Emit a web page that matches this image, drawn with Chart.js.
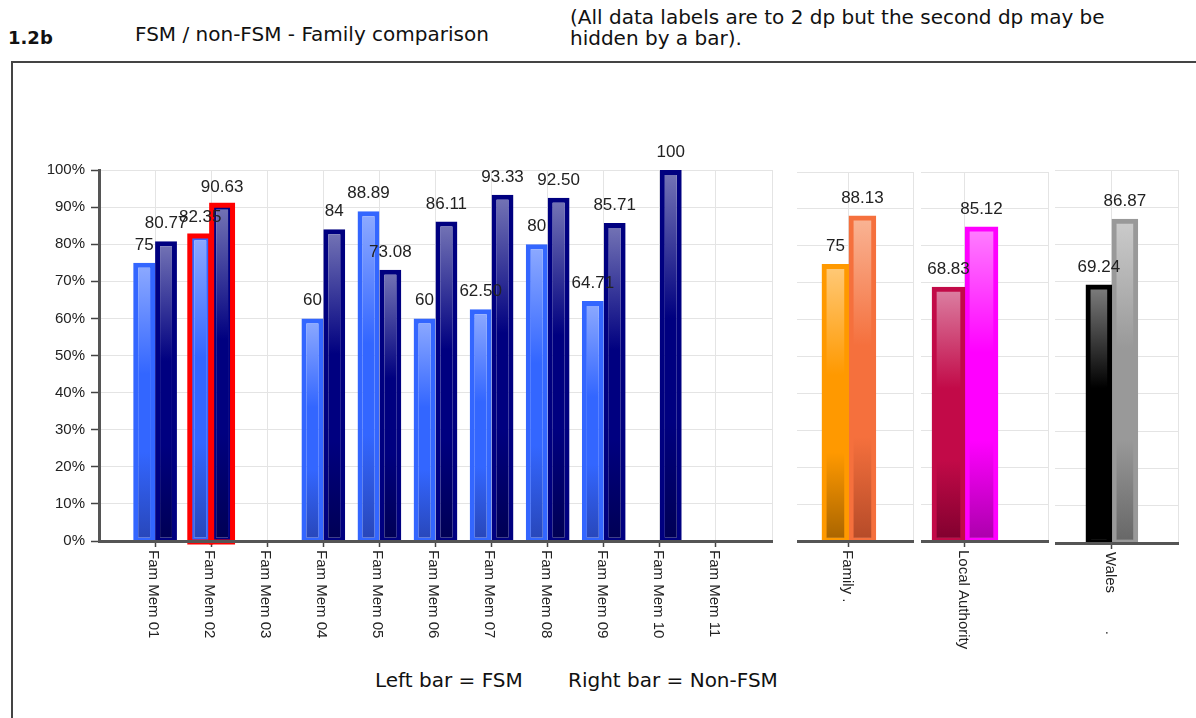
<!DOCTYPE html>
<html>
<head>
<meta charset="utf-8">
<script src="https://cdn.jsdelivr.net/npm/chart.js@4.4.1/dist/chart.umd.min.js"></script>
<style>
  body { margin: 0; width: 1196px; height: 718px; overflow: hidden; background: #fff; position: relative;
         font-family: "DejaVu Sans", Verdana, sans-serif; color: #111; }
  .txt { position: absolute; font-size: 20px; line-height: 21px; white-space: nowrap; }
  #frame { position: absolute; left: 11px; top: 61px; width: 1300px; height: 800px; border: 2px solid #444; }
  canvas { position: absolute; top: 0; }
</style>
</head>
<body>
<div class="txt" style="left:8px; top:27px; font-weight:bold; font-size:18px">1.2b</div>
<div class="txt" style="left:135px; top:24px">FSM / non-FSM - Family comparison</div>
<div class="txt" style="left:570px; top:7px">(All data labels are to 2 dp but the second dp may be<br>hidden by a bar).</div>
<div id="frame"></div>
<div class="txt" style="left:375px; top:670px">Left bar = FSM</div>
<div class="txt" style="left:568px; top:670px">Right bar = Non-FSM</div>

<canvas id="main" width="790" height="718" style="left:0px"></canvas>
<canvas id="panel0" width="126" height="718" style="left:797px"></canvas>
<canvas id="panel1" width="137" height="718" style="left:921px"></canvas>
<canvas id="panel2" width="133" height="718" style="left:1055px"></canvas>

<script>
// family members
const categories = ['Fam Mem 01', 'Fam Mem 02', 'Fam Mem 03', 'Fam Mem 04', 'Fam Mem 05', 'Fam Mem 06',
                    'Fam Mem 07', 'Fam Mem 08', 'Fam Mem 09', 'Fam Mem 10', 'Fam Mem 11'];
const fsmValues = [75, 82.35, null, 60, 88.89, 60, 62.5, 80, 64.71, null, null];
const nonFsmValues = [80.77, 90.63, null, 84, 73.08, 86.11, 93.33, 92.5, 85.71, 100, null];
const highlighted = 'Fam Mem 02';

// comparison panels
const panelLabels = ['Family .', 'Local Authority', 'Wales         .'];
const panelFsm = [75, 68.83, 69.24];
const panelNonFsm = [88.13, 85.12, 86.87];

const FONT = '"Liberation Sans", Arial, sans-serif';
const gridColor = '#e4e4e4';
const clear = 'rgba(0,0,0,0)';
Chart.defaults.font.family = FONT;

const mainFsmCol = { border: '#3366ff', top: '#8fabff', mid: '#3366ff', bottom: '#2846b8' };
const mainNonCol = { border: '#000080', top: '#7676b6', mid: '#000080', bottom: '#000054' };
const panelCols = [
    [{ border: '#ff9900', top: '#ffca7a', mid: '#ff9900', bottom: '#a86400' },
     { border: '#f5703d', top: '#f9b596', mid: '#f5703d', bottom: '#b44a28' }],
    [{ border: '#c20a48', top: '#dc82a4', mid: '#c20a48', bottom: '#80002e' },
     { border: '#ff00ff', top: '#ff80ff', mid: '#ff00ff', bottom: '#aa00aa' }],
    [{ border: '#000000', top: '#808080', mid: '#000000', bottom: '#000000' },
     { border: '#999999', top: '#cccccc', mid: '#999999', bottom: '#666666' }],
];
// where each small panel sits on the page
const panelBoxes = [
    { top: 172, bottom: 541, min: 0.19, bar: 27 },
    { top: 172, bottom: 541, min: 0.47, bar: 33 },
    { top: 170, bottom: 543, min: 0.14, bar: 26 },
];

const fmt = (v) => Number.isInteger(v) ? String(v) : v.toFixed(2);

// per-bar light-to-dark fill
const barFill = (c) => (ctx) => {
    const chart = ctx.chart;
    if (ctx.type !== 'data' || !chart.chartArea || !ctx.parsed) return c.mid;
    const y = chart.scales.y;
    const top = y.getPixelForValue(ctx.parsed.y);
    const base = y.getPixelForValue(0);
    if (!isFinite(top) || base - top < 2) return c.mid;
    const g = chart.ctx.createLinearGradient(0, top, 0, base);
    g.addColorStop(0, c.top);
    g.addColorStop(0.4, c.mid);
    g.addColorStop(0.68, c.mid);
    g.addColorStop(1, c.bottom);
    return g;
};

const barStyle = (c) => ({
    backgroundColor: barFill(c),
    borderColor: c.border,
    borderWidth: { top: 5, left: 5, right: 5, bottom: 3 },
    borderSkipped: false,
});

const highlight = {
    id: 'highlight',
    afterDatasetsDraw(chart) {
        const idx = (chart.data.labels || []).indexOf(highlighted);
        if (idx < 0) return;
        const ctx = chart.ctx;
        ctx.save();
        ctx.strokeStyle = '#ff0000';
        ctx.lineWidth = 5;
        chart.data.datasets.forEach((ds, di) => {
            const el = chart.getDatasetMeta(di).data[idx];
            if (!el || ds.data[idx] == null) return;
            const { x, y, base, width } = el.getProps(['x', 'y', 'base', 'width'], true);
            ctx.strokeRect(x - width / 2 + 0.5, y + 0.5, width - 1, base - y + 1);
        });
        ctx.restore();
    }
};

const valueLabels = {
    id: 'valueLabels',
    afterDatasetsDraw(chart) {
        const ctx = chart.ctx;
        ctx.save();
        ctx.font = '17px ' + FONT;
        ctx.fillStyle = '#222';
        ctx.textAlign = 'center';
        ctx.textBaseline = 'alphabetic';
        chart.data.datasets.forEach((ds, di) => {
            const meta = chart.getDatasetMeta(di);
            meta.data.forEach((el, i) => {
                const p = meta.controller.getParsed(i);
                if (!p || p.y == null || isNaN(p.y)) return;
                ctx.fillText(fmt(p.y), el.x, el.y - 13);
            });
        });
        ctx.restore();
    }
};

// tick labels reading downwards
const xLabels = {
    id: 'xLabels',
    afterDraw(chart) {
        const s = chart.scales.x;
        const ctx = chart.ctx;
        ctx.save();
        ctx.font = '15px ' + FONT;
        ctx.fillStyle = '#222';
        ctx.textAlign = 'left';
        ctx.textBaseline = 'middle';
        s.ticks.forEach((t, i) => {
            if (!t.label) return;
            ctx.save();
            ctx.translate(s.getPixelForTick(i) - 2, s.top + 9);
            ctx.rotate(Math.PI / 2);
            ctx.fillText(t.label, 0, 0);
            ctx.restore();
        });
        ctx.restore();
    }
};

const tickMark = (c) => (c.tick && c.tick.label) ? '#444' : clear;

new Chart(document.getElementById('main'), {
    type: 'bar',
    data: {
        labels: ['', ...categories, ''],
        datasets: [
            { label: 'FSM', data: [null, ...fsmValues, null], ...barStyle(mainFsmCol) },
            { label: 'Non-FSM', data: [null, ...nonFsmValues, null], ...barStyle(mainNonCol) },
        ],
    },
    options: {
        responsive: false,
        animation: false,
        categoryPercentage: 0.78,
        barPercentage: 1,
        layout: { padding: { top: 170, left: 0, right: 18, bottom: 27 } },
        plugins: { legend: { display: false }, tooltip: { enabled: false } },
        scales: {
            x: {
                offset: false,
                grid: { offset: false, color: (c) => c.index === 0 ? clear : gridColor,
                        tickColor: tickMark, tickLength: 6, tickWidth: 1.5 },
                border: { color: '#555', width: 3, z: 1 },
                ticks: { display: false, autoSkip: false },
                afterFit: (s) => { s.height = 150; },
            },
            y: {
                min: 0, max: 100,
                ticks: { stepSize: 10, callback: (v) => v + '%', color: '#222', font: { size: 15 }, padding: 6 },
                grid: { color: gridColor, tickColor: '#444', tickLength: 8, tickWidth: 1.5 },
                border: { color: '#555', width: 3, z: 1 },
                afterFit: (s) => { s.width = 99; },
            },
        },
    },
    plugins: [highlight, valueLabels, xLabels],
});

panelLabels.forEach((name, i) => {
    const box = panelBoxes[i];
    new Chart(document.getElementById('panel' + i), {
        type: 'bar',
        data: {
            datasets: [
                { label: 'FSM', data: [{ x: 1, y: panelFsm[i] }], ...barStyle(panelCols[i][0]) },
                { label: 'Non-FSM', data: [{ x: 1, y: panelNonFsm[i] }], ...barStyle(panelCols[i][1]) },
            ],
        },
        options: {
            responsive: false,
            animation: false,
            barThickness: box.bar,
            layout: { padding: { top: box.top, left: 0, right: 10, bottom: 718 - box.bottom - 150 } },
            plugins: { legend: { display: false }, tooltip: { enabled: false } },
            scales: {
                x: {
                    type: 'linear', min: box.min, max: 2, offset: false,
                    afterBuildTicks: (s) => { s.ticks = [{ value: 1 }, { value: 2 }]; },
                    ticks: { display: false, callback: (v) => v === 1 ? name : '' },
                    grid: { offset: false, color: gridColor, tickColor: tickMark, tickLength: 6, tickWidth: 1.5 },
                    border: { color: '#555', width: 3, z: 1 },
                    afterFit: (s) => { s.height = 150; },
                },
                y: {
                    min: 0, max: 100,
                    ticks: { display: false, stepSize: 10 },
                    grid: { color: gridColor, drawTicks: false },
                    border: { display: false },
                    afterFit: (s) => { s.width = 0; },
                },
            },
        },
        plugins: [valueLabels, xLabels],
    });
});
</script>
</body>
</html>
